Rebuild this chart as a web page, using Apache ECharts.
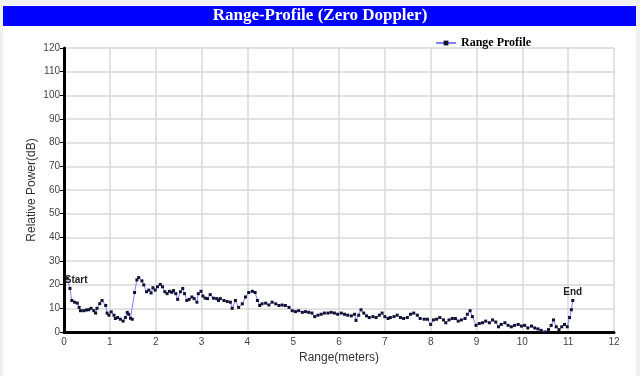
<!DOCTYPE html>
<html>
<head>
<meta charset="UTF-8">
<title>Range-Profile</title>
<script src="https://cdn.jsdelivr.net/npm/echarts@6/dist/echarts.min.js"></script>
<style>
	body { margin: 0; background: #f0f0f0; }
	#chart { width: 640px; height: 376px; }
</style>
</head>
<body>
<div id="chart"></div>
<script type="text/javascript">
var rangeM = [0.07, 0.13, 0.17, 0.23, 0.29, 0.33, 0.36, 0.43, 0.49, 0.54, 0.59, 0.65, 0.69, 0.72, 0.78, 0.83, 0.91, 0.94, 0.98,
	1.03, 1.09, 1.12, 1.17, 1.23, 1.29, 1.34, 1.38, 1.41, 1.45, 1.49, 1.54, 1.59, 1.63, 1.70, 1.74, 1.80, 1.85, 1.90, 1.94, 1.99,
	2.04, 2.10, 2.15, 2.20, 2.25, 2.30, 2.35, 2.39, 2.44, 2.48, 2.54, 2.59, 2.63, 2.68, 2.73, 2.79, 2.84, 2.90, 2.93, 2.99,
	3.03, 3.08, 3.13, 3.19, 3.26, 3.33, 3.37, 3.41, 3.49, 3.56, 3.63, 3.67, 3.74, 3.81, 3.89, 3.96,
	4.03, 4.11, 4.17, 4.22, 4.27, 4.32, 4.40, 4.47, 4.54, 4.62, 4.69, 4.76, 4.83, 4.91, 4.98,
	5.05, 5.12, 5.20, 5.27, 5.34, 5.41, 5.47, 5.54, 5.61, 5.68, 5.76, 5.83, 5.90, 5.97,
	6.05, 6.12, 6.19, 6.27, 6.34, 6.37, 6.43, 6.48, 6.54, 6.60, 6.66, 6.74, 6.81, 6.88, 6.94,
	7.00, 7.07, 7.12, 7.20, 7.27, 7.34, 7.41, 7.49, 7.56, 7.63, 7.71, 7.77, 7.86, 7.93,
	8.00, 8.06, 8.13, 8.20, 8.28, 8.33, 8.40, 8.47, 8.54, 8.60, 8.67, 8.75, 8.80, 8.86, 8.91, 8.99,
	9.06, 9.13, 9.20, 9.28, 9.35, 9.42, 9.48, 9.54, 9.62, 9.69, 9.76, 9.83, 9.91, 9.98,
	10.05, 10.12, 10.20, 10.27, 10.34, 10.41, 10.49, 10.57, 10.63, 10.68, 10.74, 10.80, 10.86, 10.92, 10.98,
	11.03, 11.07, 11.10];
var powerDb = [22.7, 18.4, 13.3, 12.6, 12.2, 10.4, 9.0, 9.0, 9.3, 9.4, 10.0, 9.0, 8.0, 10.0, 12.0, 13.3, 11.2, 8.0, 7.1,
	8.5, 7.1, 5.7, 6.1, 5.4, 4.6, 6.1, 8.3, 7.5, 5.8, 5.4, 16.7, 22.0, 23.0, 21.6, 19.9, 17.0, 17.7, 16.5, 18.7, 17.7,
	19.1, 20.1, 19.1, 17.0, 16.2, 17.2, 16.8, 17.5, 16.2, 13.8, 17.0, 18.4, 16.2, 13.3, 13.8, 14.8, 14.1, 12.6, 16.2, 17.2,
	15.2, 14.3, 14.1, 15.8, 14.3, 14.1, 13.3, 14.1, 13.3, 12.9, 12.6, 10.0, 13.3, 10.4, 11.9, 14.8,
	16.7, 17.2, 16.7, 13.3, 11.2, 11.9, 12.2, 11.4, 12.6, 11.9, 11.2, 11.4, 11.2, 10.4, 9.0,
	8.6, 9.0, 8.3, 8.6, 8.3, 8.0, 6.5, 7.1, 7.5, 8.0, 8.0, 8.3, 8.0, 7.5,
	8.0, 7.5, 7.1, 6.8, 7.5, 4.9, 7.1, 9.4, 8.0, 6.8, 6.1, 6.5, 6.1, 7.1, 8.0,
	6.5, 5.7, 6.1, 6.5, 7.1, 6.1, 5.7, 6.1, 7.5, 8.0, 7.1, 5.7, 5.4, 5.4,
	3.2, 5.1, 5.4, 6.1, 5.1, 3.9, 5.1, 5.7, 5.7, 4.6, 5.1, 5.7, 7.5, 9.0, 6.5, 2.8,
	3.6, 3.9, 4.6, 3.9, 5.1, 4.2, 2.2, 3.2, 3.9, 2.8, 2.2, 2.8, 3.2, 2.5,
	2.8, 1.7, 2.5, 1.7, 1.3, 0.7, 0.0, 1.0, 2.8, 5.1, 2.2, 1.0, 2.2, 3.2, 2.2,
	6.1, 9.4, 13.3];
var xTicks = [0, 12, 1];
var yTicks = [0, 120, 10];

var seriesData = [];
for (var i = 0; i < rangeM.length; i++) {
	var item = { value: [rangeM[i], powerDb[i]] };
	if (i == 0) {
		item.label = { show: true, formatter: 'Start', position: 'right', offset: [-9, 2] };
	}
	if (i == rangeM.length - 1) {
		item.label = { show: true, formatter: 'End', position: 'top', offset: [0, 3] };
	}
	seriesData.push(item);
}

var myChart = echarts.init(document.getElementById('chart'));
var option = {
	animation: false,
	backgroundColor: '#f0f0f0',
	graphic: [
		{ type: 'rect', z: -10, shape: { x: 3, y: 5, width: 633, height: 371 }, style: { fill: '#ffffff' } },
		{ type: 'rect', z: -5, shape: { x: 3, y: 6, width: 633, height: 20 }, style: { fill: '#0000ff' } },
		{ type: 'text', z: 10, x: 320, y: 16, style: {
			text: 'Range-Profile (Zero Doppler)', fill: '#ffffff', align: 'center', verticalAlign: 'middle',
			font: 'bold 17px "Liberation Serif", "Times New Roman", serif'
		} }
	],
	legend: {
		left: 430,
		top: 32,
		itemWidth: 20,
		itemHeight: 6,
		itemGap: 4,
		textStyle: {
			fontFamily: '"Liberation Serif", "Times New Roman", serif',
			fontWeight: 'bold',
			fontSize: 12,
			color: '#000'
		},
		data: ['Range Profile']
	},
	grid: {
		left: 64,
		right: 26,
		top: 48,
		bottom: 44,
		containLabel: false
	},
	xAxis: {
		type: 'value',
		min: xTicks[0],
		max: xTicks[1],
		interval: xTicks[2],
		name: 'Range(meters)',
		nameLocation: 'middle',
		nameGap: 20,
		nameMoveOverlap: false,
		nameTextStyle: { fontFamily: 'Arial, "Liberation Sans", sans-serif', fontSize: 12, color: '#333' },
		axisLine: { lineStyle: { color: '#000', width: 3 } },
		axisTick: { show: false },
		axisLabel: { fontFamily: 'Arial, "Liberation Sans", sans-serif', fontSize: 10, color: '#444', margin: 5 },
		splitLine: { show: true, lineStyle: { color: '#d8d8d8', width: 1.5 } }
	},
	yAxis: {
		type: 'value',
		min: yTicks[0],
		max: yTicks[1],
		interval: yTicks[2],
		name: 'Relative Power(dB)',
		nameLocation: 'middle',
		nameGap: 26,
		nameMoveOverlap: false,
		nameTextStyle: { fontFamily: 'Arial, "Liberation Sans", sans-serif', fontSize: 12, color: '#333' },
		axisLine: { show: true, lineStyle: { color: '#000', width: 3 } },
		axisTick: { show: true, length: 4, lineStyle: { color: '#000', width: 1 } },
		axisLabel: { fontFamily: 'Arial, "Liberation Sans", sans-serif', fontSize: 10, color: '#444', margin: 4 },
		splitLine: { show: true, lineStyle: { color: '#d8d8d8', width: 1.5 } }
	},
	series: [{
		name: 'Range Profile',
		type: 'line',
		data: seriesData,
		symbol: 'rect',
		symbolSize: 3,
		showAllSymbol: true,
		itemStyle: { color: '#111133' },
		lineStyle: { color: '#8080ff', width: 1 },
		label: {
			fontFamily: 'Arial, "Liberation Sans", sans-serif',
			fontWeight: 'bold',
			fontSize: 10,
			color: '#222'
		}
	}]
};
myChart.setOption(option);
</script>
</body>
</html>
